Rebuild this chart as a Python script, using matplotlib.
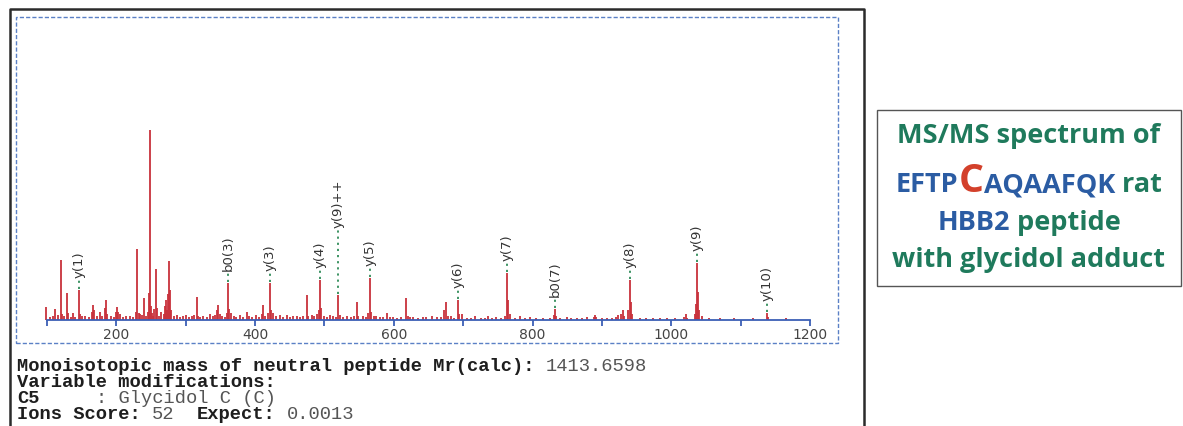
import matplotlib
matplotlib.use("Agg")
import matplotlib.pyplot as plt
from matplotlib.lines import Line2D
from matplotlib.patches import Rectangle

# peak list: m/z and relative intensity (% of base peak)
mz = [99.0, 104, 108, 111.5, 116, 119.7, 121, 124, 128.4, 130, 134, 138, 141, 146.1, 148, 151,
      154.8, 160, 165.5, 166.8, 168, 172, 176, 180, 183.5, 185, 187, 193, 197, 199.5, 200.5, 202,
      205, 210, 214, 219.7, 224, 228, 230, 232, 234, 237, 240, 243, 246, 247.5, 248.6, 249.8,
      251, 253, 255, 257, 258.5, 262, 265, 268, 270, 271.6, 273, 275, 276.5, 278, 279.5, 283,
      287, 292, 296, 301, 305, 309, 312, 315.8, 318, 321, 325, 330, 335, 339, 342, 344.6,
      346.5, 349, 352, 356, 359, 361.4, 363, 366, 369, 373, 378, 383, 388, 391, 396, 402,
      406, 410, 412, 415, 419, 421.5, 423, 426, 430, 436, 440, 445.6, 450, 455, 460, 465,
      469, 474.4, 477, 481.6, 485, 488.8, 491.5, 493.6, 495, 500, 504, 508, 513, 516, 520, 522,
      527, 532, 538, 542, 546.5, 549, 556, 560, 563.5, 565.7, 567, 571, 575, 580, 585, 589.8,
      594, 599, 605, 610, 617.6, 620, 624, 628, 635, 642.5, 647, 654.6, 661.8, 668, 673, 675.3,
      678, 682, 687, 692, 694, 698, 705, 711, 717, 725, 731, 736, 741, 747, 755, 761,
      763.6, 765, 767, 775, 782, 789, 796, 805, 815.5, 825, 830.5, 832.4, 834, 840, 849, 856,
      863.7, 871, 878, 888, 890, 892, 900, 907, 915, 920, 923.7, 927, 930, 932, 938, 940.5,
      942, 944, 955, 964, 974, 983, 993.5, 1005, 1019, 1020.9, 1023, 1034, 1035.5, 1036.7, 1038, 1040,
      1044, 1055, 1070, 1090, 1118, 1137.7, 1139, 1166]
inten = [6.8, 1.6, 2.1, 5.8, 2.6, 31.6, 3.2, 2.1, 14.2, 3.7, 1.6, 3.7, 1.6, 15.8, 3.2, 2.1,
         2.1, 1.6, 4.2, 7.9, 5.3, 2.1, 4.2, 2.1, 6.3, 10.5, 3.2, 2.1, 1.6, 4.2, 6.8, 4.2,
         3.2, 1.6, 2.1, 2.1, 1.6, 4.2, 37.4, 3.7, 3.2, 2.6, 11.6, 2.1, 4.2, 14.2, 100, 7.4,
         3.7, 2.1, 5.8, 26.8, 6.3, 2.1, 4.2, 3.2, 7.4, 10.5, 5.3, 13.7, 31.1, 15.8, 5.3, 2.1,
         2.6, 1.6, 2.1, 2.6, 1.6, 2.1, 2.6, 12.1, 2.1, 1.6, 2.1, 1.6, 3.2, 2.1, 2.6, 5.3,
         7.9, 3.2, 2.1, 1.6, 3.7, 19.5, 5.8, 3.7, 2.1, 1.6, 2.6, 1.6, 4.2, 2.1, 1.6, 2.6,
         1.6, 3.2, 7.9, 2.1, 3.7, 19.5, 5.3, 3.7, 2.1, 2.6, 1.6, 2.6, 1.6, 2.1, 2.1, 1.6,
         2.1, 13.2, 2.1, 2.6, 2.1, 3.2, 5.3, 21.1, 6.3, 2.1, 1.6, 2.6, 2.1, 1.6, 13.2, 2.6,
         1.6, 2.1, 1.6, 2.1, 9.5, 2.1, 2.1, 1.6, 3.7, 22.1, 4.2, 2.1, 2.1, 1.6, 1.6, 3.7,
         1.6, 1.6, 1.1, 1.6, 11.6, 2.1, 1.6, 1.6, 1.1, 1.6, 1.6, 2.1, 1.6, 1.6, 5.3, 9.5,
         2.1, 2.1, 1.1, 10.5, 3.2, 3.2, 1.1, 1.1, 2.1, 1.1, 1.1, 2.1, 1.1, 1.6, 1.1, 2.1,
         24.7, 10.5, 3.2, 1.1, 2.1, 1.1, 1.6, 1.1, 1.1, 1.1, 2.6, 5.8, 2.1, 1.1, 1.6, 1.1,
         1.1, 1.1, 1.6, 1.6, 2.6, 1.6, 1.1, 1.1, 1.1, 1.6, 2.6, 3.2, 5.3, 2.1, 5.3, 21.1,
         9.5, 3.2, 1.1, 1.1, 1.1, 1.1, 1.1, 1.1, 1.6, 3.2, 1.1, 3.2, 8.4, 30.0, 14.7, 5.3,
         2.1, 1.1, 1.1, 1.1, 1.1, 3.7, 1.6, 1.1]

# matched fragment ions
ion_labels = ["y(1)", "b0(3)", "y(3)", "y(4)", "y(9)++", "y(5)", "y(6)", "y(7)",
              "b0(7)", "y(8)", "y(9)", "y(10)"]
ion_mz = [146.1, 361.4, 421.5, 493.6, 520, 565.7, 692, 763.6, 832.4, 940.5, 1036.7, 1137.7]

xticks = list(range(100, 1300, 100))

# search result lines: (text, bold?) segments, monospace columns
info_lines = [
    [("Monoisotopic mass of neutral peptide Mr(calc): ", True), ("1413.6598", False)],
    [("Variable modifications:", True)],
    [("C5     ", True), (": Glycidol C (C)", False)],
    [("Ions Score: ", True), ("52  ", False), ("Expect: ", True), ("0.0013", False)],
]

GREEN = "#1f7a5c"
BLUE = "#2b5ca3"
RED = "#d3402b"
title_lines = [
    [("MS/MS spectrum of", GREEN, 1.0)],
    [("EFTP", BLUE, 1.0), ("C", RED, 1.45), ("AQAAFQK", BLUE, 1.0), (" rat", GREEN, 1.0)],
    [("HBB2", BLUE, 1.0), (" peptide", GREEN, 1.0)],
    [("with glycidol adduct", GREEN, 1.0)],
]

W, H = 1183, 426
fig = plt.figure(figsize=(W / 100, H / 100), dpi=100)


def fx(px):
    return px / W


def fy(py):
    return 1 - py / H


peak_red = "#c8323c"
axis_blue = "#3b5fb5"
ymax = 300 / 190 * 100
k = ymax / 300  # data units per pixel

ax = fig.add_axes([fx(43.5), fy(320), fx(770), 300 / H])
ax.vlines(mz, 0, inten, color=peak_red, lw=1.3)
ax.plot([100, 1200], [0, 0], color=axis_blue, lw=1.3, clip_on=False)
ax.set_xlim(95, 1205)
ax.set_ylim(0, ymax)
ax.set_xticks(xticks)
ax.set_xticklabels([str(t) if t % 200 == 0 else "" for t in xticks])
ax.tick_params(axis="x", direction="out", length=4, width=1.3, color=axis_blue,
               labelsize=10, labelcolor="#444444", pad=2)
ax.set_yticks([])
for s in ax.spines.values():
    s.set_visible(False)
ax.patch.set_alpha(0)

for lab, m in zip(ion_labels, ion_mz):
    h = inten[mz.index(m)]
    lift = 67 if lab == "y(9)++" else 12
    ax.plot([m, m], [h + 1 * k, h + (lift - 2) * k], color="#2e8b57", lw=1.3,
            ls=(0, (1.2, 2.2)), clip_on=False)
    ax.annotate(lab, xy=(m, h), xytext=(0, lift * 0.72), textcoords="offset points",
                rotation=90, ha="center", va="bottom", fontsize=9.5, color="#333333")

# frames
fig.add_artist(Line2D([fx(10), fx(10), fx(864), fx(864)], [fy(430), fy(9), fy(9), fy(430)],
                      color="#2b2b2b", lw=1.8, transform=fig.transFigure))
fig.add_artist(Rectangle((fx(16), fy(343)), fx(822), 326 / H, fill=False, ec="#5b80c6",
                         lw=1.0, ls=(0, (3, 1.5)), transform=fig.transFigure))
fig.add_artist(Rectangle((fx(877), fy(286)), fx(304), 176 / H, fill=False, ec="#555555",
                         lw=1.0, transform=fig.transFigure))

# search result text (monospace, 0.6 em per character)
mono_size = 13.5
char_w = 0.6 * mono_size * 100 / 72
for i, segs in enumerate(info_lines):
    yb = fy(371 + 16 * i)
    col = 0
    for s, bold in segs:
        txt = s.rstrip()
        fig.text(fx(17 + col * char_w), yb, txt, family="Liberation Mono",
                 weight="bold" if bold else "normal", fontsize=mono_size,
                 color="#1e1e1e" if bold else "#555555", va="baseline", ha="left")
        col += len(s)

# coloured caption in the box
fig.canvas.draw()
renderer = fig.canvas.get_renderer()
base_size = 19.5
baselines = [143, 192, 230, 267]
cx = 1029
for parts, yb in zip(title_lines, baselines):
    texts = []
    for s, c, scale in parts:
        t = fig.text(0, fy(yb), s, family="Open Sans", weight="bold",
                     fontsize=base_size * scale, color=c, va="baseline", ha="left")
        texts.append(t)
    widths = [t.get_window_extent(renderer).width for t in texts]
    x = cx - sum(widths) / 2
    for t, w in zip(texts, widths):
        t.set_x(fx(x))
        x += w

fig.savefig("out.png", dpi=100)
